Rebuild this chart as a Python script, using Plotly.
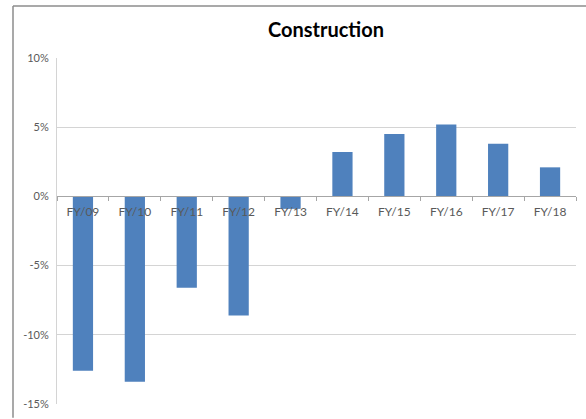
import plotly.graph_objects as go

# Annual growth, construction sector (%)
years = ["FY/09", "FY/10", "FY/11", "FY/12", "FY/13",
         "FY/14", "FY/15", "FY/16", "FY/17", "FY/18"]
growth = [-12.6, -13.4, -6.6, -8.6, -0.9, 3.2, 4.5, 5.2, 3.8, 2.1]

y_ticks = [-15, -10, -5, 0, 5, 10]
y_tick_text = ["-15%", "-10%", "-5%", "0%", "5%", "10%"]

W, H = 586, 419
ML, MR, MT, MB = 57, 10, 58, 9
PW, PH = W - ML - MR, H - MT - MB


def px_x(x):
    return (x - ML) / PW


def px_y(y):
    return (H - MB - y) / PH


y_min, y_max = -15, 10

fig = go.Figure(
    go.Bar(
        x=years,
        y=growth,
        marker=dict(color="#4f81bd", line=dict(width=0)),
        hoverinfo="x+y",
    )
)

# outer frame of the chart area (left and top edges visible)
frame = dict(color="#8c8c8c", width=1.5)
fig.add_shape(type="line", xref="paper", yref="paper",
              x0=px_x(13), x1=px_x(13), y0=px_y(5), y1=px_y(H + 5), line=frame)
fig.add_shape(type="line", xref="paper", yref="paper",
              x0=px_x(13), x1=px_x(W + 5), y0=px_y(5), y1=px_y(5), line=frame)

fig.update_layout(
    width=W,
    height=H,
    margin=dict(l=ML, r=MR, t=MT, b=MB),
    paper_bgcolor="white",
    plot_bgcolor="white",
    showlegend=False,
    bargap=0.61,
    font=dict(family="Lato, 'Open Sans', sans-serif", color="#595959", size=11),
    title=dict(
        text="<b>Construction</b>",
        font=dict(family="Lato, 'Open Sans', sans-serif", size=20, color="#000000"),
        x=326 / W,
        xanchor="center",
        xref="container",
        y=1 - 30 / H,
        yanchor="middle",
        yref="container",
    ),
    xaxis=dict(
        type="category",
        anchor="free",
        position=(0 - y_min) / (y_max - y_min),
        showline=True,
        linecolor="#a6a6a6",
        linewidth=1,
        ticks="outside",
        tickson="boundaries",
        ticklen=4,
        tickcolor="#a6a6a6",
        showgrid=False,
        ticklabelstandoff=4,
        tickfont=dict(size=12, color="#595959"),
    ),
    yaxis=dict(
        range=[y_min, y_max],
        tickvals=y_ticks,
        ticktext=y_tick_text,
        showgrid=True,
        gridcolor="#d4d4d4",
        gridwidth=1,
        zeroline=False,
        showline=True,
        linecolor="#d4d4d4",
        linewidth=1,
        ticks="",
        ticklabelstandoff=5,
        tickfont=dict(size=11, color="#595959"),
    ),
)

fig.write_html("out.html")
